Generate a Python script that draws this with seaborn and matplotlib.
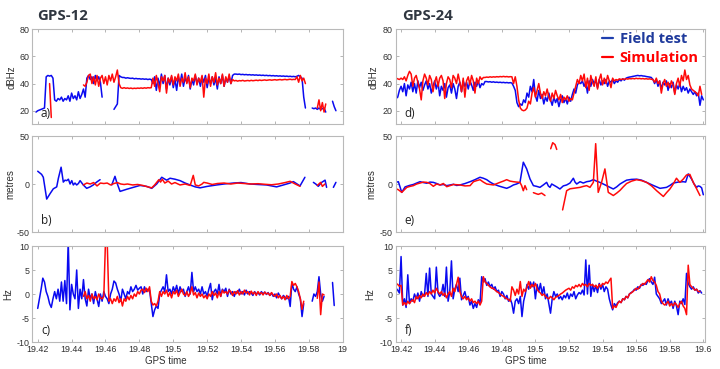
import numpy as np
import pandas as pd
import matplotlib
matplotlib.use("Agg")
import matplotlib.pyplot as plt
import seaborn as sns
from matplotlib.lines import Line2D

N = None

# ---------------- data -----------------
# regular GPS-time grid (0.001 step) used by the dBHz and Hz series
grid_t = np.round(19.417 + 0.001 * np.arange(184), 3)

# a) GPS-12 C/N0 (dBHz)
a_field = [N, N, 19,
    20, 20.5, 21, 21.5, 22, 45, 46, 45.5, 46, 44,
    28, 27, 29, 28, 30, 27, 29, 28, 31, 27,
    33, 29, 31, 28, 34, 29, 32, 36, 30, 44,
    46, 43, 45, 40, 46, 42, 45, 41, 30, N,
    N, N, N, N, N, 21, 23, 25, 46, 45,
    44.5, 44.5, 44, 44.3, 44, 43.8, 44, 43.5, 43.8, 43.5,
    43.6, 43.3, 43.5, 43.2, 43.4, 43, 43.3, 43, 40, 45,
    35, 44, 38, 47, 40, 46, 36, 44, 39, 45,
    37, 43, 35, 45, 40, 47, 38, 44, 41, 46,
    36, 43, 39, 46, 40, 44, 38, 45, 41, 46,
    37, 44, 40, 45, 39, 44, 36, 45, 40, 46,
    38, 44, 41, 45, 40, 46, 47, 47, 46.8, 47,
    46.6, 46.8, 46.5, 46.7, 46.4, 46.6, 46.3, 46.5, 46.2, 46.4,
    46.1, 46.3, 46.0, 46.2, 45.9, 46.1, 45.8, 46, 45.7, 45.9,
    45.6, 45.8, 45.5, 45.7, 45.4, 45.6, 45.3, 45.5, 45.2, 45.4,
    45.1, 45.3, 45, 45.4, 46, 45, 44, 30, 22, N,
    N, N, 22, 21.5, 22, 21, 22, 21, 21.5, 22,
    19, N, N, N, 27, 23, 20, N, N, N,
    N]
a_sim = [N, N, N,
    N, N, N, N, N, N, N, 40, 15, N,
    N, N, N, N, N, N, N, N, N, N,
    N, N, N, N, N, N, N, 39, 38, 41,
    46, 47, 40, 45, 39, 46, 38, 44, 46, 40,
    45, 39, 46, 42, 47, 41, 45, 50, 40, 37,
    36.5, 37, 36.5, 36.8, 36.4, 36.7, 36.3, 36.6, 36.4, 36.7,
    36.5, 36.8, 36.5, 36.9, 36.6, 37, 36.8, 37, 44, 38,
    46, 40, 34, 45, 42, 46, 33, 44, 41, 46,
    39, 45, 42, 47, 38, 44, 41, 48, 40, 45,
    37, 44, 42, 47, 39, 44, 41, 46, 30, 44,
    40, 47, 38, 45, 41, 48, 39, 44, 40, 47,
    38, 45, 41, 47, 40, 43, 42, 42.3, 41.8, 42.2,
    42, 42.4, 41.9, 42.1, 42.3, 42, 42.4, 42.1, 42.3, 42.5,
    42.2, 42.6, 42.3, 42.5, 42.7, 42.4, 42.6, 42.8, 42.5, 42.7,
    42.9, 42.6, 42.8, 43, 42.7, 42.9, 43.1, 42.8, 43, 43.2,
    42.9, 43.1, 43, 45, 41, 46, 42, 44, 40, N,
    N, N, N, N, N, 22, 28, 20, 26, 19,
    25, N, N, N, N, N, N, N, N, N,
    N]

# d) GPS-24 C/N0 (dBHz)
d_field = [29, 30, 35,
    38, 34, 40, 31, 39, 36, 41, 34, 40, 33,
    42, 37, 41, 35, 39, 42, 36, 40, 33, 38,
    42, 36, 41, 31, 38, 35, 40, 30, 37, 39,
    33, 40, 36, 29, 38, 41, 34, 42, 38, 41,
    36, 42, 39, 35, 41, 38, 42, 37, 40, 39,
    41.5, 41.5, 41.2, 41.4, 41, 41.3, 40.9, 41.1, 40.8, 41,
    40.7, 40.9, 40.6, 40.8, 40.5, 40.7, 40.4, 38, 35, 26,
    23, 25, 24, 28, 26, 33, 30, 38, 34, 43,
    31, 27, 35, 29, 32, 25, 30, 27, 33, 28,
    24, 30, 26, 29, 23, 28, 31, 26, 29, 25,
    30, 27, 32, 36, 33, 39, 41, 40, 42, 38,
    41, 33, 42, 38, 43, 40, 42, 37, 43, 39,
    42, 40, 43, 38, 42, 41, 43, 40, 42, 41,
    43, 42, 43.5, 42.5, 44, 44.5, 44.8, 45, 45.3, 45.5,
    45.8, 46, 45.7, 45.9, 45.6, 45.5, 45.2, 45, 44.8, 44.5,
    43, 40, 43, 38, 42, 36, 41, 39, 42, 35,
    40, 37, 41, 33, 39, 36, 40, 34, 38, 35,
    37, 33, 36, 34, 32, 34, 31, 33, 24, 31,
    28]
d_sim = [44, 43.5, 43,
    44, 43, 45, 42, 46, 49, 47, 38, 44, 46,
    41, 36, 28, 42, 47, 44, 39, 46, 43, 34,
    41, 45, 38, 44, 46, 42, 29, 40, 45, 43,
    37, 46, 44, 40, 47, 41, 34, 44, 30, 42,
    45, 39, 46, 42, 33, 44, 40, 45, 43, 44.5,
    44.5, 44.8, 44.6, 45, 44.7, 45, 44.8, 45.1, 44.9, 45.2,
    45, 45.3, 45, 45.2, 44.9, 45.1, 45, 40, 45, 38,
    28, 22, 20.5, 20, 20.5, 22, 27, 25, 33, 37,
    30, 35, 40, 33, 29, 34, 31, 36, 30, 27,
    33, 29, 35, 31, 28, 32, 26, 30, 28, 31,
    27, 29, 28, 33, 38, 43, 40, 46, 42, 47,
    37, 44, 35, 46, 41, 38, 45, 36, 43, 47,
    39, 44, 40, 46, 42, 37, 44, 42, 43, 42.5,
    43.5, 43, 43.4, 43.2, 43.6, 43.3, 43.7, 43.5, 43.8, 43.5,
    43.9, 43.6, 43.8, 43.5, 43.7, 43.4, 43.6, 43.3, 43.5, 43.2,
    43, 41, 44, 40, 42, 33, 40, 43, 38, 41,
    37, 42, 39, 32, 40, 44, 38, 46, 42, 50,
    43, 46, 39, 36, 35, 34, 33, 31, 38, 32,
    N]

# c) GPS-12 Doppler (Hz)
c_field = [N, N, N,
    -3, -1, 1, 3.3, 2.5, 0.5, -0.5, -2, -2.8, -1,
    0.5, -1, 1, -1.5, 2.5, -1.5, 2.8, -2, 11, -3.3,
    2, 0, -1, 5, -3, 1, -1, 3, -1, -2.5,
    1, -1, 0, -2, 0.5, -1, -2.6, 0, -1.5, 0.5,
    -0.5, -1, -2, 0, 1, 2.7, 2.3, 1, 0, -1.5,
    1, 0, -1, 0.5, 0, 1.5, 0.5, 1, 1.8, 0.8,
    1.2, 1.5, 0, 1.5, 0.5, 1, 0.8, -2, -4.7, -3.3,
    -2.5, -3, 0, 0.8, 1.5, 0.5, 4, 0.5, 1, 0,
    1.5, 0.5, 1.8, 0, 1.5, 0.5, 1, -0.5, 0.5, 1.5,
    0, 4.5, 0.5, 1.5, 0.5, 1, 0, 1.5, 0, 0.5,
    -0.5, 1, 2.2, -1.2, 0.5, 1, 0, 2, -0.5, 1,
    0.5, 1.2, -0.5, 1, 0, 0.5, -0.5, 0.5, 0.2, 1,
    0, 0.5, -0.2, 0.8, 0, 0.5, 0.2, -0.3, 0.5, 0,
    0.3, -0.2, 0.5, 0, 0.4, -0.1, 0.3, -0.3, 0.2, -0.5,
    0, -0.8, 0.2, -0.5, -1, -0.3, -0.7, -1, -0.5, -2.6,
    2.3, 1, 0.5, 1.5, 0, -1, -4.7, -2, N, N,
    N, N, -1.5, 0, -0.5, 0.5, 3.6, 0, -1.5, -0.5,
    N, N, N, N, 2.4, -2.4, N, N, N, N,
    N]
c_sim = [N, N, N,
    N, N, N, N, N, N, N, N, N, N,
    N, N, N, N, N, N, N, N, N, N,
    N, N, N, N, N, N, N, -0.5, 0.5, -1,
    -0.3, -1.5, 0, -1, -0.5, -1.2, 0, -0.8, -1, -0.5,
    11, 11, -1.5, -1, -2, -1, -1.5, -0.5, -1.8, -1,
    -2.5, -1, -1.5, -0.5, -1.2, -0.3, -1, 0, -0.5, 0.5,
    0, 0.8, 1, 0.3, 1.2, 0.5, 1.5, -1.5, -2.3, -2,
    -2.5, -1.5, 0.5, -0.5, 0.5, 0, 0.8, -0.5, 0.3, -0.8,
    0.5, 0, 0.8, -0.5, 0.3, 1, 0, -0.3, 0.5, -0.5,
    0.2, 1.5, -0.2, 0.3, -0.8, 0.2, -0.5, 0, -0.8, -0.3,
    -1, 0, -0.5, 0.5, -0.3, 0.2, -0.8, 0.5, -0.5, 0.8,
    0.2, 0.5, 0, 0.8, 0.5, -0.3, 0.5, 0, 0.7, -0.2,
    0.5, 0, 0.8, 0.2, 0.5, -0.2, 0.6, 0, 0.4, -0.3,
    0.5, 0, 0.3, -0.2, 0.4, 0, 0.2, -0.3, 0.3, -0.2,
    -0.5, 0, -0.8, -0.3, -1, -0.5, -1.2, -0.3, -1, -0.5,
    2.6, 1.8, 2.2, 1.5, 0.5, -1, -3.2, -1.5, N, N,
    N, N, N, N, N, -0.9, 2.5, -4.3, 0, -0.2,
    N, N, N, N, N, N, N, N, N, N,
    N]

# f) GPS-24 Doppler (Hz)
f_field = [1.2, 0.8, 0.2,
    7.8, -2.3, -1, -2.8, 4, -2, -1, -1.5, 0, -1,
    0.2, -1.5, 0.5, -0.5, 0, 4.3, -0.5, 5.4, 0, -0.5,
    -1, 5.6, 0.2, -0.5, 0, 2, -0.5, 5.6, -1.5, 0.5,
    6.9, -1, 1, 2, 0.5, 3.3, -1.2, -0.3, 0.5, -1,
    -0.5, -2.3, -1.5, -3, -2, -2.8, -1.2, -2, 3.6, 2.5,
    3.2, 1.8, 2.5, 1.5, 2, 1, 1.5, 0.5, 0.8, -0.5,
    0.5, 0, -1, -0.3, -1.5, -1, -2, -4, -1.5, -1,
    -2, -0.5, -4.7, -1.5, 0, 2, 1, 2.5, 1.5, 2.5,
    -1, 2, 0.5, 2.2, 0, 1.5, -1, 0, -2, -4,
    -1, 0.5, -0.5, 0, -1, -0.5, -1.2, -0.3, -0.8, 0.2,
    -1, 0, -0.5, 0.5, -1, -0.2, 0.3, 0, 0.8, -0.2,
    7.1, 0, 6, -0.5, 2, 0.5, 1.8, 0.3, 2.2, 1,
    2, 0.5, 1.5, 1, -1, -2.3, -3.3, -2, -2.5, -1.8,
    -1.5, -1.8, -1, -1.2, -0.5, -0.8, 0, 0.3, 0.5, 1,
    0.8, 1.5, 1.2, 2, 1.8, 2.2, 2, 2.8, 3.2, 2.5,
    2, 3.5, 0, -0.5, -1, -2, -1.5, -1, -2.3, -1,
    -2, -1.5, -3, -1.5, -2.5, -4.3, -1.5, -2, -1, -2.2,
    4.3, 2.2, 1.5, 1, 1.5, 0.8, 1, 0.2, 0.7, 0.2,
    N]
f_sim = [2.2, 2, 1.6,
    1.8, -2.3, -1.8, -2.3, -1.5, -2, -1.5, -1.2, -1.8, -0.5,
    -1, -0.3, -0.8, 0, -0.5, 0.3, -0.2, 0.5, 0, 0.8,
    0.2, 1.2, 0.5, 0, 0.5, -0.3, 0.2, -0.8, 0, 0.5,
    -0.5, 1.2, 0.5, 2, 3.5, 0.5, -0.5, -1, -0.5, -1.2,
    -0.8, -1.5, -1, -1.8, -1.5, -2, -1.5, -2.3, -1.5, 3.6,
    2.5, 2.2, 1.8, 1.5, 1.2, 1.2, 0.8, 0.5, 0.3, 0,
    -0.3, -0.5, -0.8, -1, -1.2, -1.5, 1.5, 0.8, -0.3, 1,
    0, 2.6, -0.5, 1, 0.5, 1.5, 2.6, 1.2, 2, 1.5,
    2.2, 1, 0.5, 0.2, -0.3, 0, -0.5, -0.8, -1, -0.5,
    -0.8, -1.2, -0.7, -0.5, -0.3, 0, 0.2, 0.5, 0.8, 1,
    1.2, 0.8, 1.5, 1.2, 1.8, 1.5, 2, 1.5, 2.2, 1.8,
    2, 1.5, 2.2, 1.8, 2, 1.5, 1.8, 1.2, 2, 1.5,
    2.2, 2, 2.5, 2.2, 2.8, 3.3, -3, -2.5, -2.8, -2,
    -1.5, -1.8, -1, -1.2, -0.5, -0.8, 0, 0.2, 0.5, 0.8,
    1.2, 1, 1.5, 1.8, 2.2, 2, 2.5, 3, 2.5, 3.6,
    2.8, 2.5, 1.8, 0.5, 0, -1.5, -2, -2.3, -2, -1.5,
    -2.5, -2, -2.5, -1.8, -2.2, -2.8, -2, -1.5, -2.5, -3,
    -4.3, 6, 2, 1.5, 1.2, 0.8, 1, 0.5, 0.5, N,
    N]

# b) GPS-12 position error (metres)
b_field_t = [19.4200, 19.4223, 19.4233, 19.4253, 19.4273, 19.4292, 19.4312, 19.4322, 19.4338, 19.4351,
    19.4361, 19.4371, 19.4381, 19.4391, 19.4401, 19.4410, 19.4420, 19.4430, 19.4440, 19.4450,
    19.4469, 19.4489, 19.4509, 19.4528, 19.4548, 19.4568, 19.4600, 19.4637, 19.4656, 19.4666,
    19.4686, 19.4725, 19.4764, 19.4804, 19.4843, 19.4873, 19.4902, 19.4932, 19.4961, 19.4981,
    19.5010, 19.5040, 19.5070, 19.5099, 19.5130, 19.5158, 19.5200, 19.5256, 19.5300, 19.5355,
    19.5400, 19.5453, 19.5500, 19.5551, 19.5610, 19.5650, 19.5689, 19.5709, 19.5748, 19.5777,
    19.5800, 19.5827, 19.5841, 19.5856, 19.5876, 19.5896, 19.5905, 19.5920, 19.5945, 19.5960]
b_field_v = [13.3, 10, 7, -15.7, -10, -5, -3, 6, 17.5, 2,
    4, 3.5, 5, 0, 3.5, -1, 1, -1, 0.5, 3.5,
    -1, -4.5, -3, -1, 2, 4.5, N, -1, 8, 2,
    -7.7, -5.5, -3.5, -1.5, -2.5, -4.5, 0, 7, 4, 6,
    5, 3.5, 1, -1, -3, -4, -2.5, -1, 0, 1,
    1.5, 0, -0.5, -1, -3, -1, 1, 2.5, -2, 7,
    N, 1.7, 0, -2.4, 1.7, 4, -3.5, N, -3.5, 1.7]
b_sim_t = [19.4469, 19.4490, 19.4510, 19.4530, 19.4550, 19.4570, 19.4590, 19.4610, 19.4630, 19.4650,
    19.4670, 19.4690, 19.4710, 19.4730, 19.4760, 19.4790, 19.4820, 19.4850, 19.4873, 19.4890,
    19.4915, 19.4925, 19.4935, 19.4950, 19.4970, 19.4990, 19.5010, 19.5040, 19.5070, 19.5100,
    19.5118, 19.5130, 19.5150, 19.5170, 19.5180, 19.5200, 19.5230, 19.5260, 19.5300, 19.5340,
    19.5380, 19.5420, 19.5460, 19.5500, 19.5540, 19.5580, 19.5620, 19.5660, 19.5690, 19.5720,
    19.5748, 19.5800, 19.5850, 19.5870, 19.5880, 19.5895]
b_sim_v = [-1, 1, 0, 1.5, -2, 1, 0.5, 1, -1, 0.5,
    1.5, 0, -0.5, 0, -1, -0.5, -1.5, -3, -4, -1,
    4.5, 2, 5, 1, 3, 0, 1.5, -1, 0, -1.5,
    9, -1, -2, 0, 1.7, 1, -0.5, 0.5, 1, 0,
    1, 0.5, 0, 0.3, -0.3, -0.8, 0, 1.5, 2.8, 0,
    -2.4, N, -1.5, 1.7, -2.5, 0]

# e) GPS-24 position error (metres)
e_field_t = [19.4164, 19.4184, 19.4204, 19.4224, 19.4250, 19.4273, 19.4293, 19.4313, 19.4333, 19.4353,
    19.4372, 19.4392, 19.4412, 19.4432, 19.4452, 19.4472, 19.4492, 19.4512, 19.4531, 19.4551,
    19.4581, 19.4611, 19.4640, 19.4670, 19.4690, 19.4710, 19.4730, 19.4750, 19.4780, 19.4809,
    19.4829, 19.4849, 19.4869, 19.4888, 19.4908, 19.4928, 19.4948, 19.4968, 19.4988, 19.5008,
    19.5027, 19.5047, 19.5067, 19.5077, 19.5087, 19.5097, 19.5107, 19.5127, 19.5146, 19.5166,
    19.5186, 19.5206, 19.5226, 19.5236, 19.5246, 19.5266, 19.5285, 19.5305, 19.5325, 19.5345,
    19.5364, 19.5384, 19.5404, 19.5424, 19.5444, 19.5464, 19.5484, 19.5504, 19.5523, 19.5543,
    19.5573, 19.5603, 19.5632, 19.5662, 19.5702, 19.5742, 19.5762, 19.5781, 19.5801, 19.5821,
    19.5851, 19.5880, 19.5895, 19.5910, 19.5930, 19.5945, 19.5960, 19.5970, 19.5980, 19.5990,
    19.6000]
e_field_v = [1.5, 2.4, -8.7, -3, -1.5, -0.5, 1, 2.4, 1.5, 0.8,
    2, 1.7, 0.5, -1, -0.5, -1.7, -1, -0.3, -1.5, -1,
    0.5, 2.4, 4.5, 7, 6, 4.5, 2, 0, -2, -3.5,
    -4.5, -3, -1, 0, 1.7, 22.7, 15.7, 5.2, -1.7, -2.5,
    -3.5, -1, 1.7, -2, -3.5, 0, -1, -3, -5.2, -2,
    -1, 1, 6, 2, 0, 2.4, 1, 2.4, 3, 4.5,
    3, 1.7, 0, -1.7, -3.5, -5.2, -3, 0, 2, 4,
    4.8, 5, 4, 1.7, -1.5, -4.5, -4, -3.5, -1.5, 1,
    2, 2.4, 2, 10.5, 5.2, 0, -3.5, -2, -2.5, -4,
    -11.2]
e_sim_t = [19.4164, 19.4184, 19.4204, 19.4234, 19.4253, 19.4273, 19.4293, 19.4313, 19.4333, 19.4353,
    19.4372, 19.4392, 19.4412, 19.4432, 19.4452, 19.4472, 19.4512, 19.4551, 19.4581, 19.4611,
    19.4631, 19.4650, 19.4670, 19.4690, 19.4710, 19.4750, 19.4789, 19.4809, 19.4829, 19.4849,
    19.4869, 19.4888, 19.4908, 19.4918, 19.4928, 19.4938, 19.4948, 19.4970, 19.4988, 19.5003,
    19.5017, 19.5037, 19.5057, 19.5075, 19.5091, 19.5103, 19.5117, 19.5127, 19.5145, 19.5162,
    19.5186, 19.5206, 19.5226, 19.5246, 19.5266, 19.5285, 19.5305, 19.5325, 19.5345, 19.5359,
    19.5374, 19.5394, 19.5414, 19.5434, 19.5464, 19.5484, 19.5504, 19.5523, 19.5543, 19.5573,
    19.5603, 19.5632, 19.5662, 19.5692, 19.5722, 19.5742, 19.5762, 19.5781, 19.5801, 19.5821,
    19.5840, 19.5860, 19.5880, 19.5900, 19.5920, 19.5940, 19.5960, 19.5980]
e_sim_v = [-4.5, -6, -8.7, -3.5, -2.5, -1.7, 0, 1, 2, 1.7,
    0.5, -2.4, 0, -1, 0.5, -2.8, -0.5, -1, -2, -1.7,
    2.4, 3.5, 4.5, 2, 0, -1, 1.7, 3, 4.5, 3,
    2.4, 2, 1.7, -1.7, -7, -1.7, -5.9, N, -9, -10,
    -10.8, -9.5, -12, N, 36.7, 43, 41, 36, N, -27,
    -7, -5, -4.5, -4, -3.5, -2.5, -1.7, -3.5, 1.7, 42,
    -8.7, 1.7, 15.7, -8.7, -12, -9.5, -6.6, -3, 0.5, 3,
    4.5, 3.5, 1.7, -2, -7, -10, -13, -9, -5.2, 0,
    6, 1.7, 5, 9.4, 10, 1.7, -5, -12]

x_ticks = [19.42, 19.44, 19.46, 19.48, 19.50, 19.52, 19.54, 19.56, 19.58, 19.60]
x_labels_left = ["19.42", "19.44", "19.46", "19.48", "19.5", "19.52", "19.54", "19.56", "19.58", "19"]
x_labels_right = ["19.42", "19.44", "19.46", "19.48", "19.5", "19.52", "19.54", "19.56", "19.58", "19.6"]
titles = ["GPS-12", "GPS-24"]
panel_tags = [["a)", "b)", "c)"], ["d)", "e)", "f)"]]
y_names = ["dBHz", "metres", "Hz"]
series_names = ["Field test", "Simulation"]

# ---------------- styling -----------------
sns.set_theme(style="white")
plt.rcParams["font.family"] = ["Liberation Sans", "DejaVu Sans"]

BLUE = "#0a0af0"
RED = "#ff0a0a"
SPINE = "#b9b9b9"
TXT = "#303030"


def to_df(t, v):
    t = np.asarray(t, dtype=float)
    v = np.array(v, dtype=float)
    n = min(len(t), len(v))
    t, v = t[:n], v[:n]
    seg = np.cumsum(np.isnan(v))
    m = ~np.isnan(v)
    return pd.DataFrame({"t": t[m], "v": v[m], "seg": seg[m]})


def draw(ax, df, color):
    sns.lineplot(data=df, x="t", y="v", units="seg", estimator=None, sort=False,
                 color=color, linewidth=1.1, ax=ax, legend=False)


fig = plt.figure(figsize=(7.2, 3.69), dpi=100)
fig.patch.set_facecolor("white")

lefts = [32.3 / 720, 395.7 / 720]
widths = [310.4 / 720, 309.3 / 720]
rows = [(1 - 124.3 / 369, 95 / 369), (1 - 232 / 369, 96 / 369), (1 - 342 / 369, 96 / 369)]
xlims = [(19.4168, 19.600), (19.4168, 19.601)]
ylims = [(10, 80), (-50, 50), (-10, 10)]
yticks = [[20, 40, 60, 80], [-50, 0, 50], [-10, -5, 0, 5, 10]]
ylab_x = [[-0.049, -0.056, -0.061], [-0.056, -0.061, -0.067]]

data = [
    [(to_df(grid_t, a_field), to_df(grid_t, a_sim)),
     (to_df(b_field_t, b_field_v), to_df(b_sim_t, b_sim_v)),
     (to_df(grid_t, c_field), to_df(grid_t, c_sim))],
    [(to_df(grid_t, d_field), to_df(grid_t, d_sim)),
     (to_df(e_field_t, e_field_v), to_df(e_sim_t, e_sim_v)),
     (to_df(grid_t, f_field), to_df(grid_t, f_sim))],
]

axes = {}
for c in range(2):
    for r in range(3):
        b, h = rows[r]
        ax = fig.add_axes([lefts[c], b, widths[c], h])
        axes[(c, r)] = ax
        df_f, df_s = data[c][r]
        draw(ax, df_f, BLUE)
        draw(ax, df_s, RED)
        ax.set_xlim(*xlims[c])
        ax.set_ylim(*ylims[r])
        ax.set_yticks(yticks[r])
        ax.set_yticklabels([str(v) for v in yticks[r]])
        ax.set_xticks(x_ticks)
        if r == 2:
            ax.set_xticklabels(x_labels_left if c == 0 else x_labels_right)
            ax.set_xlabel("GPS time", fontsize=7, color=TXT)
            ax.xaxis.set_label_coords(0.431 if c == 0 else 0.421, -0.15)
            ax.xaxis.label.set_va("top")
        else:
            ax.set_xticklabels([])
            ax.set_xlabel("")
        ax.set_ylabel(y_names[r], fontsize=7, color=TXT)
        ax.yaxis.set_label_coords(ylab_x[c][r], 0.5)
        ax.tick_params(axis="both", which="both", direction="in", length=2.5, width=0.6,
                       color="#a8a8a8", labelsize=6.4, labelcolor=TXT,
                       top=True, right=True, bottom=True, left=True, pad=2)
        for s in ax.spines.values():
            s.set_color(SPINE)
            s.set_linewidth(0.8)
        ax.set_facecolor("white")
        ax.grid(False)
        ax.text(0.028, 0.05, panel_tags[c][r], transform=ax.transAxes,
                fontsize=8.5, family=["Open Sans", "DejaVu Sans"], color="#222222",
                ha="left", va="bottom")

# titles
fig.text(36.7 / 720, 1 - 20 / 369, titles[0], fontsize=10.8, fontweight="bold",
         family=["Open Sans", "DejaVu Sans"], color="#2f3640", ha="left", va="baseline")
fig.text(401.7 / 720, 1 - 20 / 369, titles[1], fontsize=10.8, fontweight="bold",
         family=["Open Sans", "DejaVu Sans"], color="#2f3640", ha="left", va="baseline")

# legend
axd = axes[(1, 0)]
handles = [Line2D([], [], color="#1f3fae", lw=1.6), Line2D([], [], color="#ff0000", lw=1.6)]
leg = axd.legend(handles, series_names, loc="upper left", bbox_to_anchor=(0.667, 0.975),
                 frameon=False, handlelength=0.75, handletextpad=0.45, labelspacing=0.35,
                 borderpad=0, borderaxespad=0,
                 prop={"family": ["Open Sans", "DejaVu Sans"], "weight": "bold", "size": 10.5},
                 labelcolor=["#1f3a9c", "#ff0000"])

fig.savefig("out.png", dpi=100, facecolor="white")
